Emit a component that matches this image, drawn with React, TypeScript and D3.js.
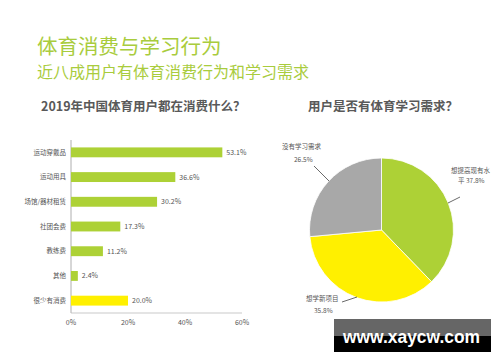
import React from 'react';
import * as d3 from 'd3';

const categories = ['运动穿戴品', '运动用具', '场馆/器材租赁', '社团会费', '教练费', '其他', '很少有消费'];
const spendValues = [53.1, 36.6, 30.2, 17.3, 11.2, 2.4, 20.0];
const xTicks = [0, 20, 40, 60];

const pieLabels = ['想提高现有水平', '想学新项目', '没有学习需求'];
const pieValues = [37.8, 35.8, 26.5];

const GREEN = '#add136';
const YELLOW = '#fff000';
const GRAY = '#a8a8a8';
const FONT = '"Noto Sans CJK SC", "Noto Sans", sans-serif';

function BarChart() {
  const x = d3.scaleLinear().domain([0, 60]).range([71, 242]);
  const y = d3.scaleBand().domain(categories).range([140, 313]).paddingInner(0.6).paddingOuter(0.3);
  return (
    <g fontFamily={FONT}>
      <line x1={71} x2={71} y1={140} y2={313} stroke="#999" strokeWidth={0.8} />
      <line x1={71} x2={242} y1={313} y2={313} stroke="#bbb" strokeWidth={0.8} />
      {categories.map((c, i) => {
        const yy = y(c)!;
        const v = spendValues[i];
        return (
          <g key={c}>
            <rect x={x(0)} y={yy} width={x(v) - x(0)} height={y.bandwidth()}
              fill={c === '很少有消费' ? YELLOW : GREEN} />
            <text x={66} y={yy + y.bandwidth() / 2} dy="0.35em" textAnchor="end"
              fontSize={6.5} fill="#555">{c}</text>
            <text x={x(v) + 4} y={yy + y.bandwidth() / 2} dy="0.35em"
              fontSize={7} fill="#555">{v.toFixed(1)}%</text>
          </g>
        );
      })}
      {xTicks.map((t) => (
        <text key={t} x={x(t)} y={323} dy="0.35em" textAnchor="middle" fontSize={7} fill="#555">{t}%</text>
      ))}
    </g>
  );
}

function PieChart() {
  const cx = 381.5;
  const cy = 230;
  const r = 72;
  const arcs = d3.pie<number>().sort(null)(pieValues);
  const arc = d3.arc<d3.PieArcDatum<number>>().innerRadius(0).outerRadius(r);
  const colors = [GREEN, YELLOW, GRAY];
  return (
    <g fontFamily={FONT}>
      <g transform={`translate(${cx},${cy})`}>
        {arcs.map((a, i) => (
          <path key={i} d={arc(a)!} fill={colors[i]} stroke="#fff" strokeWidth={0.8} />
        ))}
      </g>
      {/* leader lines */}
      <polyline points="448,203 460,197" fill="none" stroke="#444" strokeWidth={0.8} />
      <polyline points="342,302 357,297" fill="none" stroke="#444" strokeWidth={0.8} />
      <polyline points="314,166 329,181" fill="none" stroke="#444" strokeWidth={0.8} />
      <g fontSize={6.5} fill="#555">
        <text x={451} y={173}>想提高现有水</text>
        <text x={458} y={183}>平 {pieValues[0]}%</text>
        <text x={306} y={301}>{pieLabels[1]}</text>
        <text x={314} y={313}>{pieValues[1]}%</text>
        <text x={282} y={149}>{pieLabels[2]}</text>
        <text x={294} y={162}>{pieValues[2]}%</text>
      </g>
    </g>
  );
}

export default function App() {
  return (
    <svg width={500} height={362} style={{ position: 'absolute', left: 0, top: 0, background: '#fff' }}>
      <text x={37} y={54} fontFamily={FONT} fontSize={20.5} fill="#a9cc3d">体育消费与学习行为</text>
      <text x={37} y={78} fontFamily={FONT} fontSize={16} fill="#a9cc3d">近八成用户有体育消费行为和学习需求</text>
      <text x={41} y={111} fontFamily={FONT} fontSize={12.5} fontWeight="bold" fill="#595959">2019年中国体育用户都在消费什么？</text>
      <text x={383} y={111} textAnchor="middle" fontFamily={FONT} fontSize={12.5} fontWeight="bold" fill="#595959">用户是否有体育学习需求？</text>
      <BarChart />
      <PieChart />
      <rect x={334} y={319} width={157} height={33} fill="#000" />
      <rect x={334} y={319} width={157} height={17} fill="#666" />
      <text x={343} y={343} fontFamily="'Liberation Sans', Arial, sans-serif" fontWeight="bold" fontSize={19}
        textLength={137} lengthAdjust="spacingAndGlyphs" fill="#fff">www.xaycw.com</text>
    </svg>
  );
}
